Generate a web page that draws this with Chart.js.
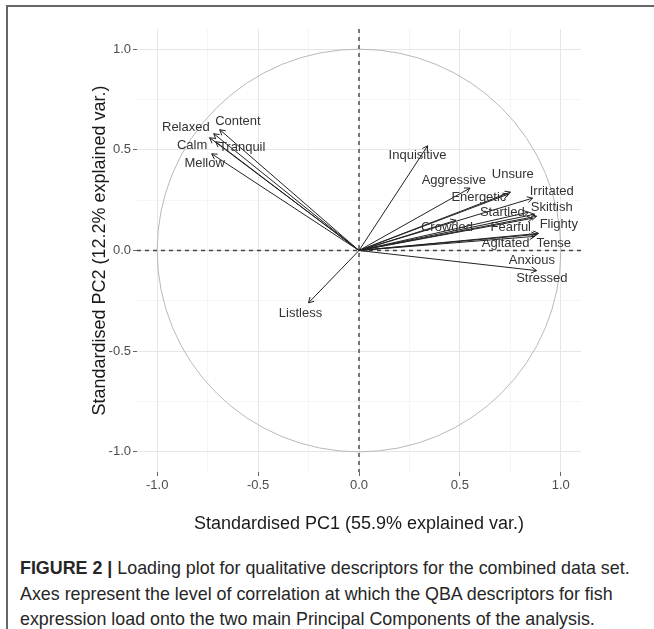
<!DOCTYPE html>
<html>
<head>
<meta charset="utf-8">
<script src="https://cdn.jsdelivr.net/npm/chart.js@4.4.0/dist/chart.umd.min.js"></script>
<style>
  html, body { margin: 0; padding: 0; background: #fff; }
  body { width: 654px; height: 629px; position: relative; overflow: hidden; }
  #frame { position: absolute; left: 6px; top: 5px; width: 700px; height: 700px;
           border-left: 2px solid #666; border-top: 2px solid #666; }
  #wrap { position: absolute; left: 0; top: 0; width: 654px; height: 545px; }
  #caption { position: absolute; left: 20px; top: 555px; white-space: nowrap;
             font-family: "Liberation Sans", Arial, sans-serif;
             font-size: 19px; line-height: 25.5px; color: #262626;
             transform: scaleX(0.94); transform-origin: 0 0; }
</style>
</head>
<body>
<div id="frame"></div>
<div id="wrap"><canvas id="pcaChart" width="654" height="545"></canvas></div>
<div id="caption"><b>FIGURE 2 |</b> Loading plot for qualitative descriptors for the combined data set.<br>Axes represent the level of correlation at which the QBA descriptors for fish<br>expression load onto the two main Principal Components of the analysis.</div>
<script>
// loadings
const descriptors = ['Content', 'Relaxed', 'Calm', 'Tranquil', 'Mellow', 'Inquisitive', 'Aggressive',
  'Energetic', 'Unsure', 'Irritated', 'Startled', 'Skittish', 'Flighty', 'Crowded', 'Fearful',
  'Agitated', 'Tense', 'Anxious', 'Stressed', 'Listless'];
const pc1 = [-0.69, -0.72, -0.74, -0.71, -0.73, 0.34, 0.55, 0.74, 0.75, 0.86, 0.84, 0.88, 0.87,
  0.48, 0.86, 0.88, 0.89, 0.87, 0.88, -0.25];
const pc2 = [0.60, 0.58, 0.56, 0.54, 0.48, 0.52, 0.31, 0.28, 0.29, 0.26, 0.19, 0.17, 0.18,
  0.15, 0.16, 0.08, 0.085, 0.07, -0.10, -0.26];
// where the text labels sit (data units)
const labelX = [-0.60, -0.858, -0.827, -0.579, -0.765, 0.29, 0.47, 0.594, 0.762, 0.955, 0.71, 0.955,
  0.99, 0.436, 0.752, 0.727, 0.965, 0.857, 0.906, -0.29];
const labelY = [0.64, 0.612, 0.523, 0.511, 0.432, 0.47, 0.347, 0.263, 0.377, 0.293, 0.189, 0.213,
  0.129, 0.114, 0.114, 0.035, 0.035, -0.05, -0.14, -0.31];

const gridValues = [-1, -0.75, -0.5, -0.25, 0, 0.25, 0.5, 0.75, 1];
const tickLabels = ['-1.0', '', '-0.5', '', '0.0', '', '0.5', '', '1.0'];

function isMajor(v) { return Math.abs(v * 2 - Math.round(v * 2)) < 1e-6; }

const biplotPlugin = {
  id: 'biplot',
  beforeDatasetsDraw(chart) {
    const { ctx, chartArea: a, scales: { x, y } } = chart;
    const cx = x.getPixelForValue(0), cy = y.getPixelForValue(0);
    ctx.save();
    // unit circle
    ctx.strokeStyle = '#b8b8b8';
    ctx.lineWidth = 1;
    ctx.beginPath();
    ctx.ellipse(cx, cy, x.getPixelForValue(1) - cx, cy - y.getPixelForValue(1), 0, 0, Math.PI * 2);
    ctx.stroke();
    // dashed zero lines
    ctx.setLineDash([4, 4]);
    ctx.strokeStyle = '#444';
    ctx.lineWidth = 1.4;
    ctx.beginPath();
    ctx.moveTo(a.left, cy); ctx.lineTo(a.right, cy);
    ctx.moveTo(cx, a.top); ctx.lineTo(cx, a.bottom);
    ctx.stroke();
    ctx.restore();
  },
  afterDatasetsDraw(chart) {
    const { ctx, scales: { x, y } } = chart;
    ctx.save();
    ctx.strokeStyle = '#222';
    ctx.lineWidth = 1;
    chart.data.datasets.forEach((ds, i) => {
      const pts = chart.getDatasetMeta(i).data;
      const p0 = pts[0], p1 = pts[1];
      const ang = Math.atan2(p1.y - p0.y, p1.x - p0.x);
      const len = 6;
      ctx.beginPath();
      ctx.moveTo(p1.x - len * Math.cos(ang - Math.PI / 6), p1.y - len * Math.sin(ang - Math.PI / 6));
      ctx.lineTo(p1.x, p1.y);
      ctx.lineTo(p1.x - len * Math.cos(ang + Math.PI / 6), p1.y - len * Math.sin(ang + Math.PI / 6));
      ctx.stroke();
    });
    ctx.font = '13px "Liberation Sans", Arial, sans-serif';
    ctx.fillStyle = '#333';
    ctx.textAlign = 'center';
    ctx.textBaseline = 'middle';
    descriptors.forEach((name, i) => {
      ctx.fillText(name, x.getPixelForValue(labelX[i]), y.getPixelForValue(labelY[i]));
    });
    ctx.restore();
  }
};

const datasets = descriptors.map((name, i) => ({
  label: name,
  data: [{ x: 0, y: 0 }, { x: pc1[i], y: pc2[i] }],
  showLine: true,
  borderColor: '#222',
  borderWidth: 1,
  pointRadius: 0
}));

function axisOpts(title) {
  return {
    type: 'linear',
    min: -1.1,
    max: 1.1,
    afterBuildTicks: s => { s.ticks = gridValues.map(v => ({ value: v })); },
    ticks: {
      callback: (v, i) => tickLabels[i],
      color: '#4d4d4d',
      font: { family: 'Liberation Sans', size: 13 },
      padding: 2,
      maxRotation: 0,
      autoSkip: false
    },
    grid: {
      color: c => isMajor(c.tick.value) ? '#e6e6e6' : '#f0f0f0',
      lineWidth: c => isMajor(c.tick.value) ? 1 : 0.7,
      tickLength: 4,
      tickColor: c => isMajor(c.tick.value) ? '#666' : 'rgba(0,0,0,0)'
    },
    border: { display: false },
    title: {
      display: true,
      text: title,
      color: '#1a1a1a',
      font: { family: 'Liberation Sans', size: 18 },
      padding: { top: 0, bottom: 0 }
    }
  };
}

const xOpts = axisOpts('Standardised PC1 (55.9% explained var.)');
xOpts.ticks.padding = 2;
xOpts.afterFit = s => { s.height = 63; };
const yOpts = axisOpts('Standardised PC2 (12.2% explained var.)');
yOpts.afterFit = s => { s.width = 48; };

new Chart(document.getElementById('pcaChart').getContext('2d'), {
  type: 'scatter',
  data: { datasets: datasets },
  options: {
    animation: false,
    responsive: false,
    maintainAspectRatio: false,
    layout: { padding: { left: 89, right: 73, top: 29, bottom: 10 } },
    plugins: { legend: { display: false }, tooltip: { enabled: false } },
    scales: { x: xOpts, y: yOpts }
  },
  plugins: [biplotPlugin]
});
</script>
</body>
</html>
